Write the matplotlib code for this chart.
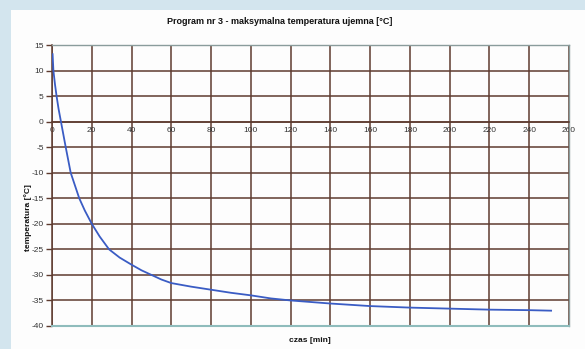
import matplotlib
matplotlib.use("Agg")
import matplotlib.pyplot as plt
from matplotlib.patches import Rectangle

# Data
czas = [0.3, 0.7, 1.5, 2.3, 3.3, 4.5, 6.9, 9.4, 13.7, 16.5, 20, 24, 28.7, 34, 40,
        45, 50, 55, 60, 70, 80, 90, 100, 110, 120, 140, 160, 180, 200, 220, 240, 251]
temperatura = [13.2, 10, 7.3, 5, 2.5, 0, -5, -10, -15, -17.4, -20, -22.5, -25, -26.6, -28.0,
               -29.1, -30.0, -30.9, -31.6, -32.3, -32.9, -33.5, -34.0, -34.6, -35.0,
               -35.6, -36.1, -36.4, -36.6, -36.8, -36.9, -37.0]
x_ticks = list(range(0, 261, 20))
y_ticks = list(range(-40, 16, 5))

title = "Program nr 3 - maksymalna temperatura ujemna [°C]"
xlabel = "czas [min]"
ylabel = "temperatura [°C]"

plt.rcParams['font.family'] = ['Liberation Sans', 'DejaVu Sans']

W, H = 585, 349
fig = plt.figure(figsize=(W / 100, H / 100), dpi=100)
fig.patch.set_facecolor('#d3e5ee')
fig.add_artist(Rectangle((11 / W, 0), 1 - 11 / W, 1 - 10 / H, transform=fig.transFigure,
                         facecolor='#fdfdfd', edgecolor='none', zorder=0))

left, right, top, bottom = 52, 569, 45, 326
ax = fig.add_axes([left / W, 1 - bottom / H, (right - left) / W, (bottom - top) / H])
ax.set_facecolor('#fdfdfd')

grid_c = '#5e3b2f'
ax.set_xlim(0, 260)
ax.set_ylim(-40, 15)
ax.set_xticks(x_ticks)
ax.set_yticks(y_ticks)
ax.grid(True, color=grid_c, linewidth=1.1)
ax.set_axisbelow(True)

ax.spines['bottom'].set_position(('data', 0))
ax.spines['bottom'].set_color(grid_c)
ax.spines['bottom'].set_linewidth(1.1)
ax.spines['left'].set_color(grid_c)
ax.spines['left'].set_linewidth(1.1)
for s in ('top', 'right'):
    ax.spines[s].set_color('#8a9c9c')
    ax.spines[s].set_linewidth(1.0)
ax.axhline(-40, color='#8fbcbc', linewidth=1.5, zorder=3, clip_on=False)

ax.tick_params(axis='x', length=0, pad=4, labelsize=6, labelcolor='#333333')
ax.tick_params(axis='y', length=4, width=1, color=grid_c, pad=2, labelsize=6,
               labelcolor='#333333')
ax.set_xticklabels([str(v) for v in x_ticks])
ax.set_yticklabels([str(v) for v in y_ticks])

ax.plot(czas, temperatura, color='#3a5cc4', linewidth=1.3, zorder=4)

fig.text(280 / W, 1 - 22 / H, title, ha='center', va='center', fontsize=6.5,
         fontweight='bold', color='#111111')
fig.text(310 / W, 1 - 340 / H, xlabel, ha='center', va='center', fontsize=6,
         fontweight='bold', color='#111111')
fig.text(28 / W, 1 - 218 / H, ylabel, ha='center', va='center', fontsize=6,
         fontweight='bold', color='#111111', rotation=90)

fig.savefig('out.png', dpi=100, facecolor=fig.get_facecolor())
